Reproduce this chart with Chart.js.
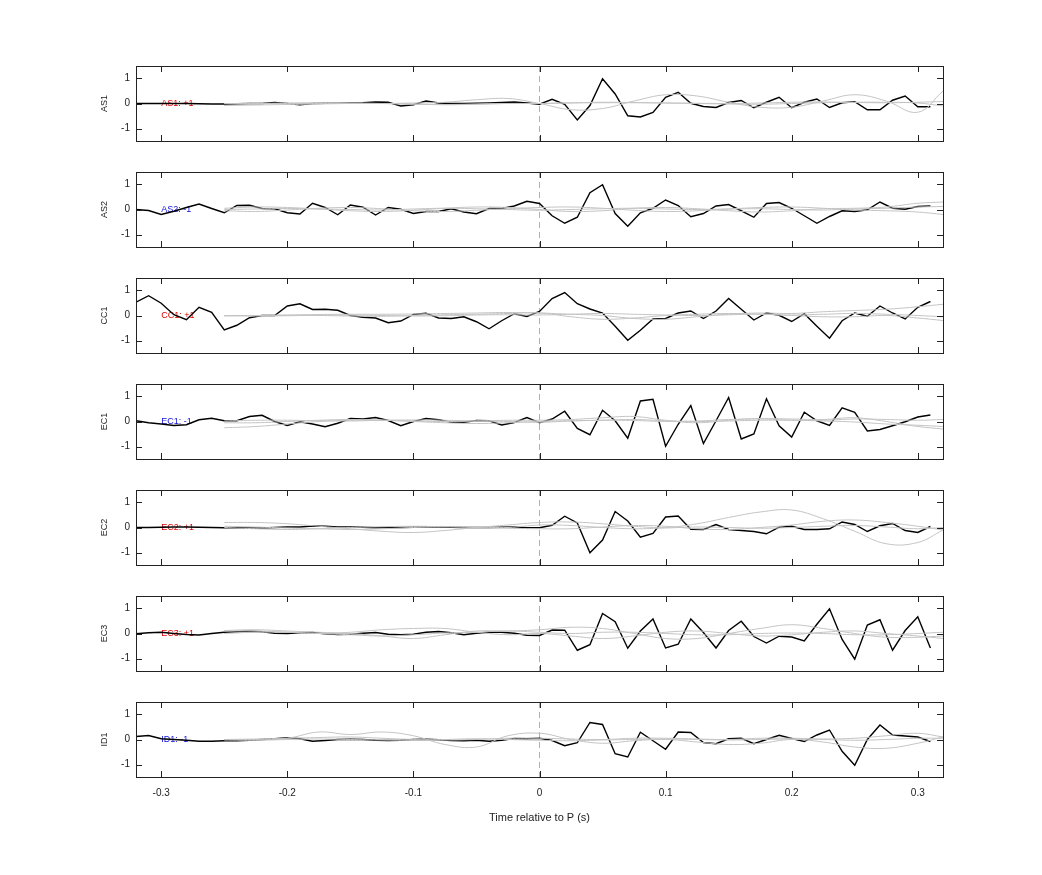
<!DOCTYPE html>
<html><head><meta charset="utf-8">
<script src="https://cdn.jsdelivr.net/npm/chart.js@4"></script>
<style>body{margin:0;background:#fff;width:1042px;height:875px;position:relative;overflow:hidden}canvas{position:absolute;left:0}</style>
</head><body>
<script>
const channels=["AS1","AS2","CC1","EC1","EC2","EC3","ID1"];
const signs=["+1","-1","+1","-1","+1","+1","-1"];
const xTicks=[-0.3,-0.2,-0.1,0,0.1,0.2,0.3];
const yTicks=[-1,0,1];
const t=[-0.32,-0.31,-0.30,-0.29,-0.28,-0.27,-0.26,-0.25,-0.24,-0.23,-0.22,-0.21,-0.20,-0.19,-0.18,-0.17,-0.16,-0.15,-0.14,-0.13,-0.12,-0.11,-0.10,-0.09,-0.08,-0.07,-0.06,-0.05,-0.04,-0.03,-0.02,-0.01,
0,0.01,0.02,0.03,0.04,0.05,0.06,0.07,0.08,0.09,0.10,0.11,0.12,0.13,0.14,0.15,0.16,0.17,0.18,0.19,0.20,0.21,0.22,0.23,0.24,0.25,0.26,0.27,0.28,0.29,0.30,0.31];
const gt=[-0.25,-0.225,-0.2,-0.175,-0.15,-0.125,-0.1,-0.075,-0.05,-0.025,0,0.025,0.05,0.075,0.1,0.125,0.15,0.175,0.2,0.225,0.25,0.275,0.3,0.32];

const AS1=[0,0,0,0,0,-0.01,-0.02,-0.02,-0.01,0,0,0.04,0,-0.05,0,0.01,0.01,0.02,0.03,0.06,0.05,-0.1,-0.05,0.1,0.02,0,0,0.01,0.02,0.04,0.06,0.02,
-0.03,0.17,-0.03,-0.66,-0.08,0.99,0.38,-0.49,-0.54,-0.36,0.25,0.45,0.01,-0.12,-0.16,0.04,0.12,-0.17,0.05,0.25,-0.17,0.05,0.18,-0.16,0.03,0.07,-0.25,-0.25,0.13,0.3,-0.13,-0.13];
const AS2=[0,-0.04,-0.2,-0.07,0.08,0.22,0.04,-0.13,0.16,0.17,0.04,0.03,-0.13,-0.18,0.25,0.08,-0.21,0.18,0.09,-0.22,0.08,0.01,-0.16,-0.08,-0.08,0.03,-0.1,-0.17,0.04,0.04,0.14,0.33,
0.24,-0.25,-0.55,-0.31,0.67,0.99,-0.16,-0.67,-0.13,0.05,0.38,0.16,-0.29,-0.16,0.14,0.2,-0.05,-0.31,0.24,0.28,0.05,-0.25,-0.55,-0.28,-0.05,-0.08,-0.01,0.3,0.05,0.01,0.12,0.14];
const CC1=[0.53,0.79,0.49,0.03,-0.17,0.33,0.13,-0.58,-0.39,-0.09,0,0,0.38,0.47,0.24,0.25,0.21,0,-0.07,-0.1,-0.29,-0.22,0.04,0.09,-0.1,-0.12,-0.05,-0.25,-0.53,-0.21,0.07,-0.04,
0.16,0.68,0.92,0.47,0.26,0.1,-0.43,-0.99,-0.59,-0.14,-0.12,0.1,0.18,-0.12,0.18,0.68,0.25,-0.18,0.1,0.01,-0.24,0.07,-0.43,-0.91,-0.21,0.1,-0.03,0.38,0.1,-0.14,0.33,0.56];
const EC1=[0.03,-0.05,-0.1,-0.16,-0.13,0.07,0.13,0.03,0.03,0.2,0.25,0,-0.16,-0.01,-0.1,-0.21,-0.07,0.12,0.1,0.16,0.04,-0.17,0,0.12,0.07,-0.03,-0.03,0.04,0.03,-0.14,-0.04,0.16,
-0.05,0.1,0.41,-0.28,-0.53,0.45,0.03,-0.67,0.82,0.89,-0.99,-0.11,0.64,-0.88,0.03,0.96,-0.7,-0.5,0.91,-0.17,-0.62,0.37,0.03,-0.16,0.55,0.37,-0.38,-0.32,-0.17,-0.01,0.18,0.26];
const EC2=[0,0,0.01,0.02,0.02,0.01,0,-0.01,-0.01,-0.02,-0.02,0,0.02,0.02,0.06,0.05,0.02,0.02,0.01,-0.01,0,0,0.01,0.02,0.02,0.01,0,0,0,0.01,0.02,-0.01,
-0.01,0.09,0.45,0.18,-1.01,-0.5,0.64,0.26,-0.39,-0.24,0.42,0.46,-0.07,-0.08,0.12,-0.08,-0.12,-0.16,-0.25,0.01,0.05,-0.08,-0.08,-0.05,0.22,0.12,-0.16,0.07,0.16,-0.12,-0.2,0.04];
const EC3=[-0.01,0.03,0.05,0,-0.04,-0.06,0,0.05,0.07,0.09,0.07,0.01,0,0.03,0.04,-0.01,-0.04,-0.03,0.01,0.04,-0.03,-0.05,-0.03,0.05,0.08,0.03,-0.05,0.01,0.05,0.05,0.01,-0.07,
-0.08,0.14,0.13,-0.67,-0.45,0.8,0.47,-0.59,0.1,0.58,-0.58,-0.43,0.58,0.04,-0.58,0.12,0.49,-0.12,-0.38,-0.11,-0.14,-0.3,0.37,0.99,-0.24,-1.03,0.34,0.55,-0.67,0.12,0.67,-0.58];
const ID1=[0.12,0.16,0.03,0,-0.03,-0.07,-0.07,-0.05,-0.05,-0.03,0,0.03,0.07,0.03,-0.07,-0.04,0,0.01,0,-0.03,-0.04,-0.03,0,0.01,-0.01,-0.04,-0.05,-0.03,-0.07,-0.03,0.04,0.03,
0.05,-0.04,-0.25,-0.13,0.68,0.6,-0.57,-0.7,0.29,-0.05,-0.39,0.3,0.28,-0.12,-0.17,0.03,0.05,-0.17,0,0.17,0.04,-0.08,0.18,0.38,-0.47,-1.03,0,0.58,0.18,0.14,0.1,-0.08];
const blacks=[AS1,AS2,CC1,EC1,EC2,EC3,ID1];

const greys=[
 [[0,0,0,0,0,0,0.02,0.05,0.15,0.2,0,-0.25,-0.2,0.1,0.35,0.3,0.05,-0.15,-0.15,0.1,0.35,0.1,-0.35,0.5],
  [-0.08,-0.06,-0.04,-0.02,0,0,-0.02,-0.05,-0.03,0,0,0.03,0.05,0.04,0.02,0,-0.02,-0.03,0,0.03,0.05,0.05,0.02,-0.1],
  [0,0,0.02,0.03,0.02,0,-0.03,-0.04,-0.02,0,0,0.02,0.03,0.03,0.02,0.01,0,0.02,0.05,0.06,0.04,0.03,0.05,0.08]],
 [[0.05,0.1,0.08,0.02,-0.05,-0.08,-0.03,0.05,0.1,0.08,0,-0.08,-0.05,0.05,0.08,0.03,-0.05,-0.1,-0.05,0.03,0.05,0.1,0.25,0.3],
  [-0.05,-0.08,-0.02,0.05,0.08,0.03,-0.05,-0.08,-0.03,0.03,0.08,0.1,0.05,-0.03,-0.08,-0.05,0.02,0.08,0.1,0.05,-0.02,-0.05,-0.1,-0.2],
  [0,0.02,0.04,0.02,0,-0.02,0.02,0.05,0.03,0,-0.03,0,0.03,0.05,0.02,0,0.02,0.03,0,-0.02,0.02,0.05,0.1,0.12]],
 [[0,0,0.02,0.04,0.05,0.05,0.06,0.08,0.1,0.12,0.1,0.05,0,-0.12,-0.15,-0.05,0.05,0.1,0.08,0.15,0.2,0.25,0.35,0.45],
  [-0.02,0,0.01,0,-0.02,-0.03,0,0.03,0.05,0.08,0.1,-0.05,-0.15,-0.1,0,0.05,0.08,0.05,0,-0.05,-0.05,0,-0.1,-0.2],
  [0,-0.02,-0.01,0.01,0.02,0,-0.02,-0.01,0.02,0.03,0.02,0.05,0.08,0.05,0.02,0,0.03,0.05,0.02,0.05,0.08,0.05,0,-0.05]],
 [[-0.25,-0.2,-0.1,0,0.05,0.05,0.02,0,0.02,0.05,0.05,0.08,0.15,0.2,0.05,-0.05,0.05,0.12,0.1,0.08,0.15,0,-0.2,-0.3],
  [-0.05,-0.05,0,0.05,0.08,0.05,0,-0.05,-0.08,-0.05,0,0.03,0.05,0.08,0.03,0,0.02,0.05,0.05,0.02,-0.02,-0.1,-0.15,-0.2],
  [0.02,0.05,0.05,0.03,0.02,0.05,0.06,0.05,0.02,0,-0.03,0.02,0.05,0.04,0,0.02,0.08,0.1,0.05,0.05,0.1,0.08,0.05,0.08]],
 [[0.2,0.2,0.15,0.05,-0.05,-0.15,-0.2,-0.12,0,0.1,0.2,0.22,0.15,0.05,0,0.15,0.4,0.62,0.7,0.35,-0.15,-0.65,-0.6,-0.1],
  [0,-0.05,-0.08,-0.05,0,0.03,0.05,0.03,0,-0.03,-0.05,-0.05,0.02,0.08,0.05,-0.05,-0.08,0,0.1,0.25,0.3,0.2,0.05,-0.1],
  [0.05,0.02,-0.02,-0.05,-0.08,-0.05,0,0.03,0.02,0,0.1,0.08,0,-0.05,-0.02,0.02,0,-0.03,0,0.05,0.08,0.02,-0.05,0]],
 [[0.12,0.15,0.1,0.05,0,-0.1,-0.2,-0.05,0.1,0.1,0.15,0.25,0.2,0,-0.2,-0.2,0,0.2,0.35,0.2,0,-0.15,-0.15,-0.1],
  [0.1,0.1,0.05,0,0.05,0.15,0.2,0.2,0.05,-0.05,0,-0.1,-0.2,-0.1,0.05,0.1,0,-0.1,-0.05,0.05,0.1,0,-0.1,-0.2],
  [0,0.05,0.05,0,-0.05,-0.1,-0.05,0.02,0.05,0.1,0.05,0,0.05,0.05,0,-0.05,-0.05,0,0.02,0,-0.05,-0.05,0,0.05]],
 [[0,0,0.05,0.3,0.2,0.3,0.15,-0.2,-0.3,0.15,0.25,0,-0.15,-0.05,0,-0.1,-0.2,-0.15,0,-0.1,-0.3,-0.35,-0.15,0.1],
  [0,0.02,0.05,0.08,0.1,0.05,0,-0.02,0,0.05,0.05,0.02,0,0.05,0.05,0.02,0,0.05,0.05,0.02,0.05,0.15,0.25,0.1],
  [-0.02,-0.03,0,0.02,0,-0.02,-0.03,0,0.03,0,-0.03,-0.05,-0.02,0,0.02,0,-0.02,0,0.02,0,-0.03,0,0.05,0.05]]
];

const tops=[66,172,278,384,490,596,702];
const PH=75, PAD=12;

const boxPlugin={id:'box',
 beforeDatasetsDraw(c,a,o){
  const ctx=c.ctx,ca=c.chartArea,xs=c.scales.x,ys=c.scales.y;
  ctx.save();
  const x0=xs.getPixelForValue(0);
  ctx.strokeStyle='#d8a0a0';ctx.lineWidth=1;ctx.setLineDash([6,4]);
  ctx.beginPath();ctx.moveTo(x0,ca.top);ctx.lineTo(x0,ca.bottom);ctx.stroke();
  ctx.setLineDash([]);
  ctx.font='9px "Liberation Sans", Arial';ctx.fillStyle=o.sign==='+1'?'#e00000':'#1010e0';
  ctx.textBaseline='middle';
  ctx.fillText(o.name+': '+o.sign,xs.getPixelForValue(-0.3),ys.getPixelForValue(0));
  ctx.restore();
 },
 afterDraw(c){
  const ctx=c.ctx,ca=c.chartArea,xs=c.scales.x,ys=c.scales.y;
  ctx.save();ctx.strokeStyle='#222';ctx.lineWidth=1;
  ctx.strokeRect(Math.round(ca.left)+0.5,Math.round(ca.top)+0.5,Math.round(ca.right-ca.left),Math.round(ca.bottom-ca.top));
  ctx.beginPath();
  xTicks.forEach(v=>{const p=Math.round(xs.getPixelForValue(v))+0.5;ctx.moveTo(p,ca.bottom);ctx.lineTo(p,ca.bottom-6);ctx.moveTo(p,ca.top);ctx.lineTo(p,ca.top+6);});
  yTicks.forEach(v=>{const p=Math.round(ys.getPixelForValue(v))+0.5;ctx.moveTo(ca.left,p);ctx.lineTo(ca.left+6,p);ctx.moveTo(ca.right,p);ctx.lineTo(ca.right-6,p);});
  ctx.stroke();ctx.restore();
 }};
Chart.register(boxPlugin);

channels.forEach((name,i)=>{
 const last=i===channels.length-1;
 const cv=document.createElement('canvas');
 const h=PAD+PH+(last?50:PAD);
 cv.style.top=(tops[i]-PAD)+'px';cv.style.width='1042px';cv.style.height=h+'px';
 cv.width=1042;cv.height=h;
 document.body.appendChild(cv);
 const ds=greys[i].map(g=>({data:gt.map((x,j)=>({x,y:g[j]})),borderColor:'#c4c4c4',borderWidth:1,pointRadius:0,tension:0.4,showLine:true}));
 ds.push({data:t.map((x,j)=>({x,y:blacks[i][j]})),borderColor:'#000',borderWidth:1.4,pointRadius:0,tension:0,showLine:true});
 new Chart(cv,{type:'scatter',data:{datasets:ds},
  options:{responsive:false,animation:false,devicePixelRatio:1,
   layout:{padding:{left:95,right:99,top:PAD,bottom:0}},
   plugins:{legend:{display:false},tooltip:{enabled:false},box:{name,sign:signs[i]}},
   scales:{
    x:{type:'linear',min:-0.32,max:0.32,grid:{display:false,drawTicks:false},border:{display:false},
     afterBuildTicks:s=>{s.ticks=xTicks.map(v=>({value:v}));},
     afterFit:s=>{s.height=last?50:PAD;},
     ticks:{display:last,padding:10,color:'#222',font:{size:10,family:'"Liberation Sans", Arial'},callback:v=>String(v)},
     title:{display:last,text:'Time relative to P (s)',color:'#222',font:{size:11,family:'"Liberation Sans", Arial'},padding:{top:0,bottom:2}}},
    y:{min:-1.5,max:1.5,grid:{display:false,drawTicks:false},border:{display:false},
     afterBuildTicks:s=>{s.ticks=yTicks.map(v=>({value:v}));},
     afterFit:s=>{s.width=41;},
     ticks:{padding:6,color:'#222',font:{size:10,family:'"Liberation Sans", Arial'}},
     title:{display:true,text:name,color:'#222',font:{size:9,family:'"Liberation Sans", Arial'},padding:{top:4,bottom:0}}}
   }}});
});
</script>
</body></html>
